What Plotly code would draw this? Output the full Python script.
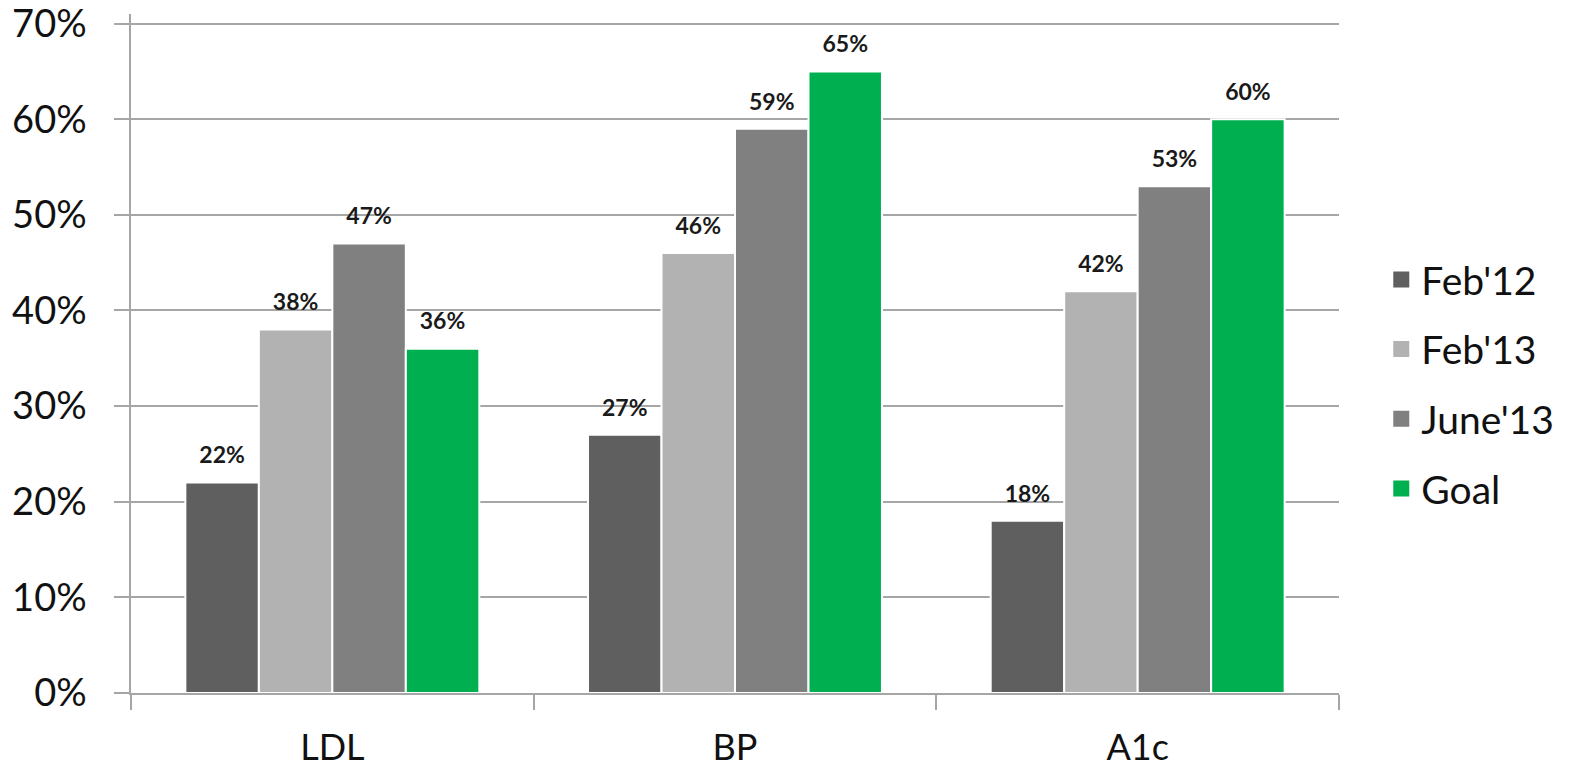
import plotly.graph_objects as go

categories = ["LDL", "BP", "A1c"]
series_names = ["Feb'12", "Feb'13", "June'13", "Goal"]
feb12 = [22, 27, 18]
feb13 = [38, 46, 42]
june13 = [47, 59, 53]
goal = [36, 65, 60]
colors = ["#5f5f5f", "#b2b2b2", "#808080", "#00b050"]
y_ticks = [0, 10, 20, 30, 40, 50, 60, 70]

FONT = "Lato"
fig = go.Figure()
for name, vals, col in zip(series_names, [feb12, feb13, june13, goal], colors):
    fig.add_trace(go.Bar(
        x=categories, y=vals, name=name, showlegend=False,
        offsetgroup=name, alignmentgroup="g",
        marker=dict(color=col, line=dict(color="white", width=2)),
    ))
    # data labels, grouped the same way as the bars
    fig.add_trace(go.Scatter(
        x=categories, y=vals, mode="markers+text", showlegend=False,
        offsetgroup=name, alignmentgroup="g",
        marker=dict(size=20, opacity=0, color=col),
        text=[f"{v}%" for v in vals], textposition="top center",
        textfont=dict(family=FONT, size=23, color="#1a1a1a", weight="bold"),
        cliponaxis=False, hoverinfo="skip",
    ))
    # legend entry
    fig.add_trace(go.Scatter(
        x=[None], y=[None], mode="markers", name=name, legendgroup=name,
        offsetgroup=name, alignmentgroup="g",
        marker=dict(symbol="square", size=26, color=col),
    ))

fig.update_layout(
    width=1573, height=770,
    margin=dict(l=131, r=234, t=14, b=77, autoexpand=False),
    plot_bgcolor="white", paper_bgcolor="white",
    barmode="group", bargap=0.27, bargroupgap=0,
    scattermode="group", scattergap=0.27,
    font=dict(family=FONT, color="#111111"),
    legend=dict(x=1.035, xanchor="left", y=0.455, yanchor="middle",
                font=dict(family=FONT, size=39, color="#111111"),
                tracegroupgap=16, traceorder="grouped", itemsizing="trace"),
    showlegend=True,
)
fig.update_yaxes(
    range=[0, 71], tickvals=y_ticks, ticktext=[f"{v}%" for v in y_ticks],
    showgrid=True, gridcolor="#a6a6a6", gridwidth=1.5,
    showline=True, linecolor="#a6a6a6", linewidth=1.5,
    ticks="outside", ticklen=15, tickcolor="#a6a6a6", tickwidth=1.5,
    tickfont=dict(family=FONT, size=38, color="#111111"),
    ticklabelstandoff=20, ticklabeloverflow="allow",
    zeroline=False, automargin=False,
)
fig.update_xaxes(
    showline=True, linecolor="#a6a6a6", linewidth=1.5,
    ticks="outside", tickson="boundaries", ticklen=15, tickcolor="#a6a6a6", tickwidth=1.5,
    tickfont=dict(family=FONT, size=36, color="#111111"),
    ticklabelstandoff=22, ticklabeloverflow="allow", automargin=False,
    showgrid=False, mirror=False,
)
fig.write_html("out.html")
